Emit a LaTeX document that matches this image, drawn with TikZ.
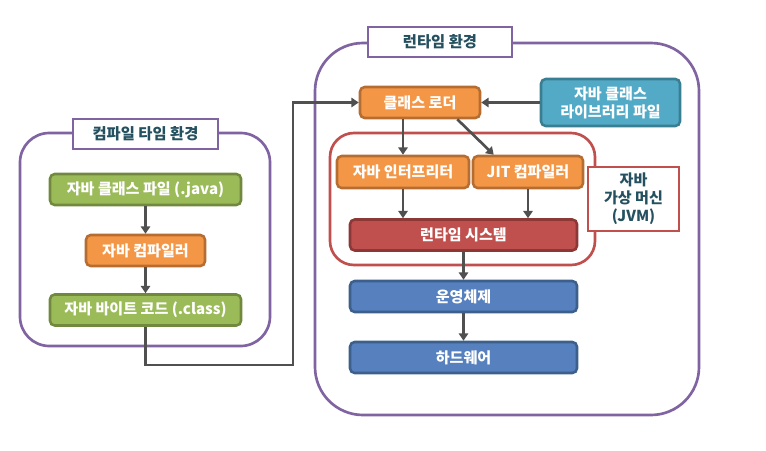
\documentclass[tikz,border=0pt]{standalone}
\usepackage{fontspec}
\setmainfont{Noto Sans CJK KR}
\usetikzlibrary{arrows.meta,calc}
\definecolor{grfill}{HTML}{9BBB59}
\definecolor{grline}{HTML}{71893F}
\definecolor{orfill}{HTML}{F39746}
\definecolor{orline}{HTML}{B66D31}
\definecolor{rdfill}{HTML}{C0504D}
\definecolor{rdline}{HTML}{8C3836}
\definecolor{blfill}{HTML}{5680BE}
\definecolor{blline}{HTML}{3C5F8C}
\definecolor{tlfill}{HTML}{53AAC6}
\definecolor{tlline}{HTML}{3A7E92}
\definecolor{purp}{HTML}{8064A2}
\definecolor{ttext}{HTML}{24505F}
\definecolor{arrc}{HTML}{505050}
\tikzset{
  box/.style={draw, line width=1.9pt, rounded corners=3.5pt, text=white,
    font=\fontsize{11.3}{13}\selectfont\bfseries, inner sep=0pt, align=center},
  gbox/.style={box, fill=grfill, draw=grline},
  obox/.style={box, fill=orfill, draw=orline},
  rbox/.style={box, fill=rdfill, draw=rdline},
  bbox/.style={box, fill=blfill, draw=blline},
  tbox/.style={box, fill=tlfill, draw=tlline},
  title/.style={draw=purp, fill=white, line width=2pt, text=ttext, inner sep=0pt,
    font=\fontsize{11.5}{13}\selectfont\bfseries, align=center},
  arr/.style={draw=arrc, line width=2pt, -{Triangle[width=7pt,length=5.5pt]}},
}
\begin{document}
\begin{tikzpicture}[x=0.75pt,y=-0.75pt]
\useasboundingbox (0,0) rectangle (766,450);
% outer containers
\draw[draw=purp, line width=2pt, rounded corners=22pt] (20,133) rectangle (270,346);
\draw[draw=purp, line width=2pt, rounded corners=36pt] (315,43) rectangle (699,415);
\draw[draw=rdfill, line width=2pt, rounded corners=18pt] (330,133) rectangle (595,265);
% titles
\node[title, minimum width=108.75pt, minimum height=22.5pt] (ct) at (145.5,134) {컴파일 타임 환경};
\node[title, minimum width=108pt, minimum height=22.5pt] (rt0) at (440,42) {런타임 환경};
\node[title, draw=rdfill, text=ttext, minimum width=68.25pt, minimum height=48pt,
  font=\fontsize{11.3}{13.5}\selectfont\bfseries] (jvm) at (633.5,199) {자바\\가상 머신\\(JVM)};
% compile-time boxes
\node[gbox, minimum width=143.25pt, minimum height=23.25pt] (g1) at (145.5,189.5) {자바 클래스 파일 (.java)};
\node[obox, minimum width=89.25pt, minimum height=23.25pt] (jc) at (145.5,250.5) {자바 컴파일러};
\node[gbox, minimum width=143.25pt, minimum height=23.25pt] (g3) at (145.5,310) {자바 바이트 코드 (.class)};
% runtime boxes
\node[obox, minimum width=90pt, minimum height=23.25pt] (cl) at (420,102.5) {클래스 로더};
\node[tbox, minimum width=104.25pt, minimum height=35.25pt, font=\fontsize{11.3}{13.5}\selectfont\bfseries] (lib) at (610.5,102.5) {자바 클래스\\라이브러리 파일};
\node[obox, minimum width=99pt, minimum height=24pt] (ip) at (403,172) {자바 인터프리터};
\node[obox, minimum width=82.5pt, minimum height=24pt] (jit) at (528,172) {JIT 컴파일러};
\node[rbox, minimum width=170.25pt, minimum height=23.25pt] (rs) at (463.5,235) {런타임 시스템};
\node[bbox, minimum width=170.25pt, minimum height=23.25pt] (os) at (463.5,296.5) {운영체제};
\node[bbox, minimum width=170.25pt, minimum height=23.25pt] (hw) at (463.5,357.5) {하드웨어};
% connectors
\coordinate (k2) at (293,365);
\draw[arr] (g1) -- (jc);
\draw[arr] (jc) -- (g3);
\draw[arr] (g3.south) |- (k2) |- (cl.west);
\draw[arr] (lib.west) -- (cl.east);
\draw[arr] (cl.south -| ip.north) -- (ip.north);
\draw[arr] ([xshift=-18pt]cl.south east) -- ([xshift=16.5pt]jit.north west);
\draw[arr] (ip.south) -- (ip.south |- rs.north);
\draw[arr] (jit.south) -- (jit.south |- rs.north);
\draw[arr] (rs) -- (os);
\draw[arr] (os) -- (hw);
\end{tikzpicture}
\end{document}
